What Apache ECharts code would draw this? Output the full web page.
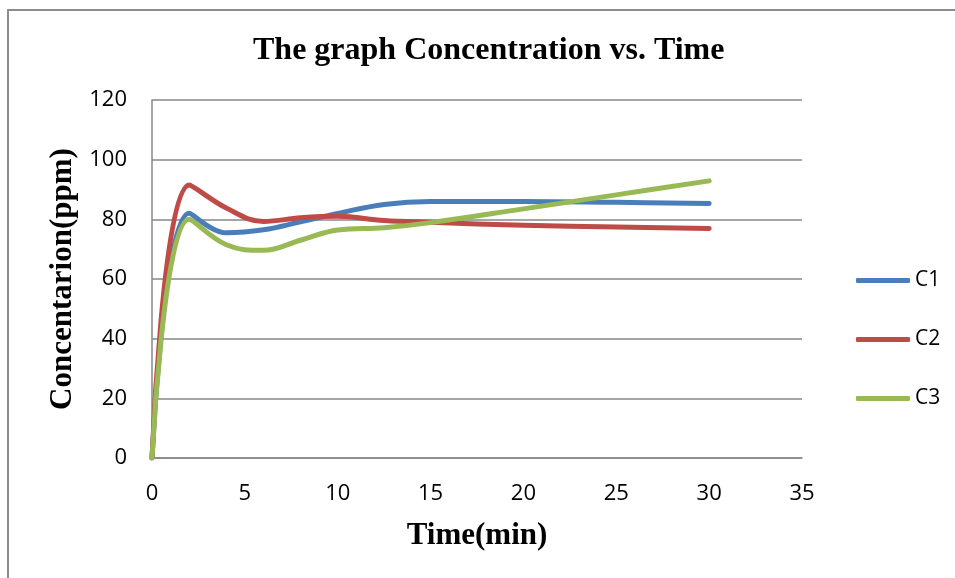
<!DOCTYPE html>
<html>
<head>
<meta charset="utf-8">
<script src="https://cdn.jsdelivr.net/npm/echarts@6/dist/echarts.min.js"></script>
<style>
  html, body { margin: 0; padding: 0; background: #fff; }
  #chart { width: 955px; height: 578px; }
</style>
</head>
<body>
<div id="chart"></div>
<script>
// Sampling times (min)
const times = [0, 2, 4, 6, 8, 10, 12.5, 15, 20, 25, 30];
// Concentration readings (ppm) for each run
const c1 = [0, 82, 75.5, 76.5, 79.2, 82, 85, 86, 86, 85.7, 85.3];
const c2 = [0, 91.5, 83.8, 79.3, 80.5, 81, 79.6, 79, 78, 77.4, 76.9];
const c3 = [0, 80, 71.5, 69.6, 73, 76.4, 77.2, 78.9, 83.5, 88.2, 92.9];

const seriesNames = ['C1', 'C2', 'C3'];
const seriesColors = ['#4A7EBB', '#BE4B48', '#98B954'];
const xTicks = { min: 0, max: 35, step: 5 };
const yTicks = { min: 0, max: 120, step: 20 };

const pairs = (vals) => times.map((t, i) => [t, vals[i]]);

const chart = echarts.init(document.getElementById('chart'));
const gridColor = '#878787';
const labelFont = '"Open Sans", "Noto Sans", sans-serif';
const serifFont = '"Liberation Serif", "DejaVu Serif", serif';

chart.setOption({
  animation: false,
  backgroundColor: '#ffffff',
  title: {
    text: 'The graph Concentration vs. Time',
    left: 248,
    top: 30,
    textStyle: { fontFamily: serifFont, fontWeight: 'bold', fontSize: 32, color: '#000' }
  },
  graphic: [
    { type: 'line', shape: { x1: 7, y1: 10, x2: 955, y2: 10 }, style: { stroke: '#8c8c8c', lineWidth: 2 } },
    { type: 'line', shape: { x1: 8, y1: 10, x2: 8, y2: 578 }, style: { stroke: '#8c8c8c', lineWidth: 2 } }
  ],
  legend: {
    orient: 'vertical',
    left: 851,
    top: 265,
    itemWidth: 54,
    itemHeight: 5,
    itemGap: 38,
    icon: 'roundRect',
    data: seriesNames,
    textStyle: { fontFamily: labelFont, fontSize: 21, color: '#000' }
  },
  grid: { left: 152, right: 153, top: 100, bottom: 120, containLabel: false },
  xAxis: {
    type: 'value',
    min: xTicks.min,
    max: xTicks.max,
    interval: xTicks.step,
    name: 'Time(min)',
    nameLocation: 'middle',
    nameGap: 62,
    nameTextStyle: { fontFamily: serifFont, fontWeight: 'bold', fontSize: 31, color: '#000' },
    axisLine: { show: true, lineStyle: { color: gridColor, width: 1.5 } },
    axisTick: { show: false },
    splitLine: { show: false },
    axisLabel: { margin: 25, fontFamily: labelFont, fontSize: 22, color: '#000' }
  },
  yAxis: {
    type: 'value',
    min: yTicks.min,
    max: yTicks.max,
    interval: yTicks.step,
    name: 'Concentarion(ppm)',
    nameLocation: 'middle',
    nameGap: 74,
    nameRotate: 90,
    nameTextStyle: { fontFamily: serifFont, fontWeight: 'bold', fontSize: 31, color: '#000' },
    axisLine: { show: true, lineStyle: { color: gridColor, width: 1.5 } },
    axisTick: { show: false },
    splitLine: { show: true, lineStyle: { color: gridColor, width: 1.5 } },
    axisLabel: { margin: 25, fontFamily: labelFont, fontSize: 22, color: '#000' }
  },
  series: [c1, c2, c3].map((vals, i) => ({
    name: seriesNames[i],
    type: 'line',
    data: pairs(vals),
    smooth: 0.4,
    showSymbol: false,
    symbol: 'none',
    color: seriesColors[i],
    lineStyle: { width: 5, color: seriesColors[i], cap: 'round', join: 'round' }
  }))
});
</script>
</body>
</html>
